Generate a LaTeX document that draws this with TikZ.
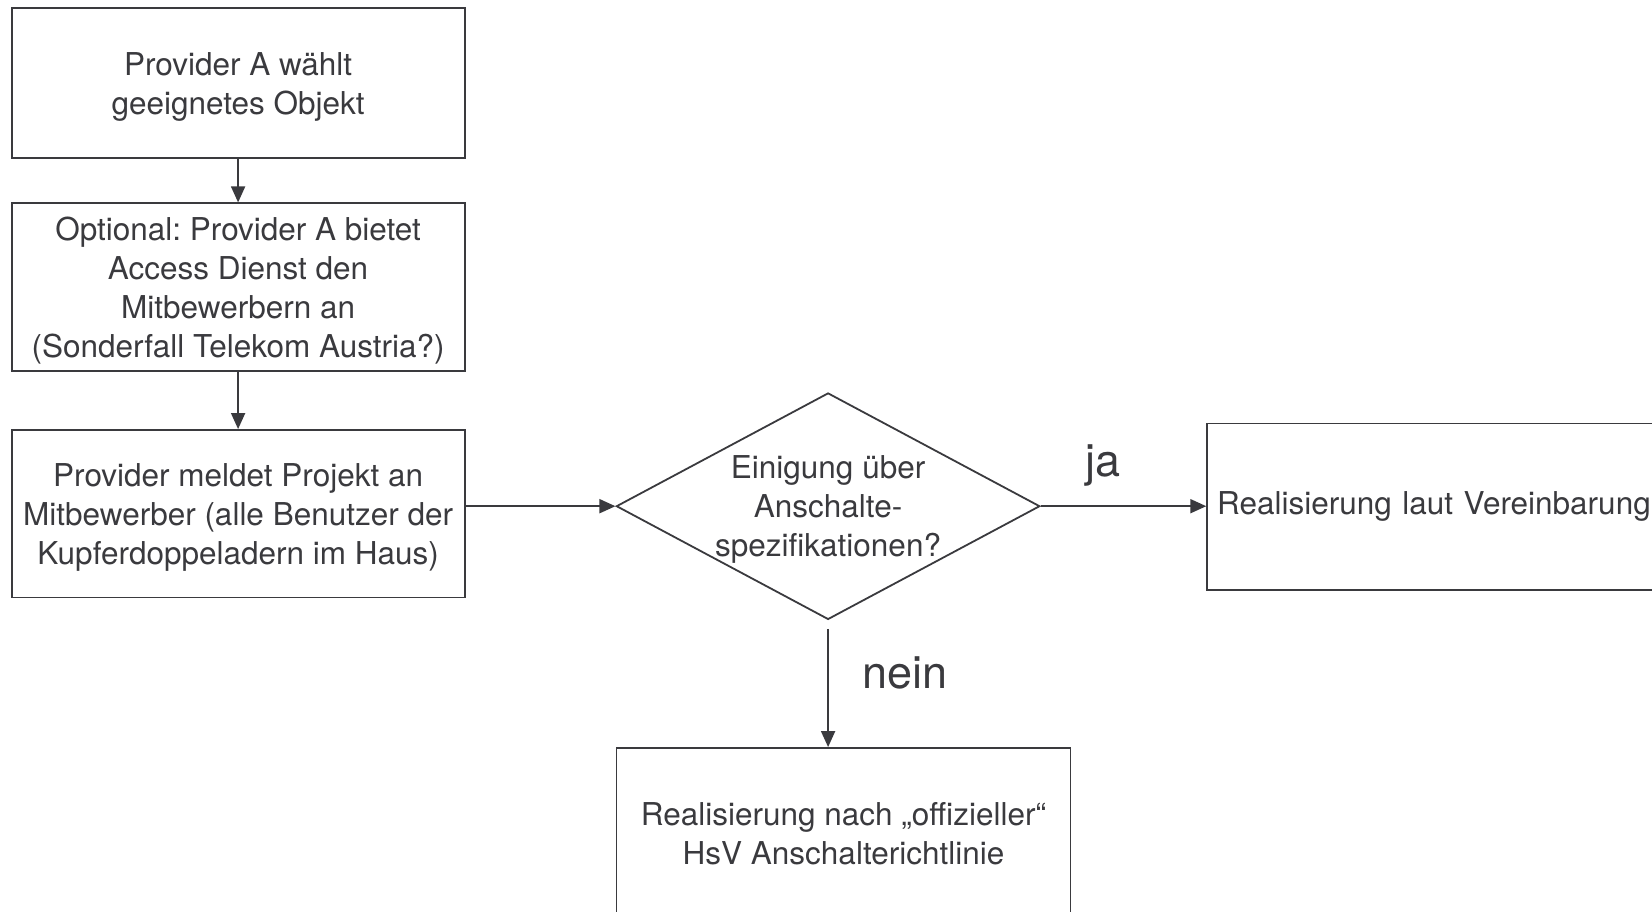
\documentclass[tikz,border=0pt]{standalone}
\usepackage{fontspec}
\setmainfont{TeX Gyre Heros}
\usepackage{tikz}
\usetikzlibrary{shapes.geometric,arrows.meta}
\definecolor{ink}{RGB}{58,58,62}
\frenchspacing

\begin{document}
\begin{tikzpicture}[x=1pt, y=-1pt,
    every node/.style={text=ink, font=\fontsize{31.5}{39}\selectfont, align=center},
    box/.style={rectangle, draw=ink, line width=1.8pt, minimum width=453pt, text depth=-4.5pt},
    decision/.style={diamond, draw=ink, line width=1.8pt, aspect=1.87, inner sep=0pt,
        minimum width=423.5pt, minimum height=226.5pt, text depth=-4.5pt},
    arr/.style={draw=ink, line width=1.8pt, -{Triangle[length=16pt, width=14pt]}},
    answer/.style={font=\fontsize{45}{50}\selectfont}]
    \useasboundingbox (0,0) rectangle (1652,912);
    \clip (0,0) rectangle (1652,912);

    \node[box, minimum height=149.6pt] (wahl) at (238.1, 83.2) {Provider A wählt\\geeignetes Objekt};
    \node[box, minimum height=167.6pt] (access) at (238.1, 287.1) {Optional: Provider A bietet\\Access Dienst den\\Mitbewerbern an\\(Sonderfall Telekom Austria?)};
    \node[box, minimum height=167.5pt] (meldung) at (238.1, 513.7) {Provider meldet Projekt an\\Mitbewerber (alle Benutzer der\\Kupferdoppeladern im Haus)};
    \node[decision] (einigung) at (828.1, 506.2) {Einigung über\\Anschalte-\\spezifikationen?};
    \node[box, text depth=, anchor=west, minimum width=490pt, minimum height=166.5pt, text width=470pt,
        align=left, inner xsep=10pt] (laut) at (1206.3, 506.7) {Realisierung laut Vereinbarung};
    \node[box, text depth=, minimum width=454pt, minimum height=172pt] (offiziell) at (843.5, 834) {Realisierung nach „offizieller“\\HsV Anschalterichtlinie};

    \node[answer, anchor=base] (ja) at (1103, 476) {ja};
    \node[answer, anchor=base west, inner sep=0pt] (nein) at (862, 688) {nein};

    \draw[arr] (wahl) -- (access);
    \draw[arr] (access) -- (meldung);
    \draw[arr] (meldung.east |- einigung.west) -- (einigung.west);
    \draw[arr] (einigung.east) -- (einigung.east -| laut.west);
    \draw[arr] ([yshift=-8.5pt]einigung.south) -- (einigung.south |- offiziell.north);
\end{tikzpicture}
\end{document}
